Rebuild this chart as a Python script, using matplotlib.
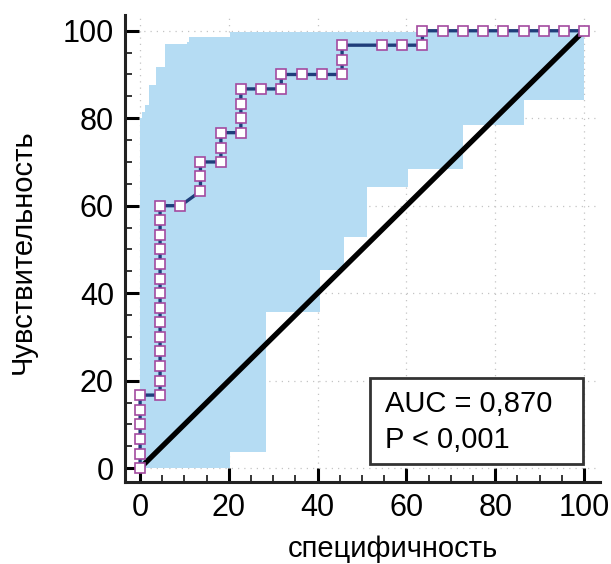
import matplotlib.pyplot as plt
from matplotlib.patches import Rectangle

plt.rcParams['font.family'] = ['Liberation Sans', 'DejaVu Sans']

# ROC curve points, % (x = 100 - specificity, y = sensitivity)
roc_x = [0, 0, 0, 0, 0, 0,
         4.5, 4.5, 4.5, 4.5, 4.5, 4.5, 4.5, 4.5, 4.5, 4.5, 4.5, 4.5, 4.5, 4.5,
         9.1, 13.6, 13.6, 13.6, 18.2, 18.2, 18.2,
         22.7, 22.7, 22.7, 22.7, 27.3, 31.8, 31.8, 36.4, 40.9,
         45.5, 45.5, 45.5, 54.5, 59.1, 63.6, 63.6,
         68.2, 72.7, 77.3, 81.8, 86.4, 90.9, 95.5, 100]
roc_y = [0, 3.3, 6.7, 10, 13.3, 16.7,
         16.7, 20, 23.3, 26.7, 30, 33.3, 36.7, 40, 43.3, 46.7, 50, 53.3, 56.7, 60,
         60, 63.3, 66.7, 70, 70, 73.3, 76.7,
         76.7, 80, 83.3, 86.7, 86.7, 86.7, 90, 90, 90,
         90, 93.3, 96.7, 96.7, 96.7, 96.7, 100,
         100, 100, 100, 100, 100, 100, 100, 100]

# 95% confidence band (step boundaries)
upper_x = [0, 0.5, 1.1, 1.9, 3.5, 5.6, 10.5, 11.1, 20.3, 100]
upper_y = [80, 81.5, 83, 87.6, 91.8, 97, 97.5, 98.5, 99.8, 100]
lower_x = [0, 20.3, 28.4, 40.5, 46.0, 51.2, 60.4, 72.7, 86.5, 100]
lower_y = [0, 3.7, 35.7, 45.4, 52.8, 64.3, 68.5, 78.4, 84.2, 84.2]

auc_text = 'AUC = 0,870'
p_text = 'P < 0,001'
ticks = [0, 20, 40, 60, 80, 100]


def staircase(xs, ys):
    sx, sy = [], []
    for i in range(len(xs)):
        if i > 0:
            sx.append(xs[i])
            sy.append(ys[i - 1])
        sx.append(xs[i])
        sy.append(ys[i])
    return sx, sy


fig = plt.figure(figsize=(6.11, 5.64), dpi=100)
ax = fig.add_axes([125 / 611, 1 - 481.7 / 564, 475 / 611, 466.7 / 564])

ux, uy = staircase(upper_x, upper_y)
lx, ly = staircase(lower_x, lower_y)
ax.fill(ux + lx[::-1], uy + ly[::-1], color='#b5dcf3', lw=0, zorder=1)

ax.plot([0, 100], [0, 100], color='black', lw=3.8, solid_capstyle='round', zorder=3)
ax.plot(roc_x, roc_y, color='#1f3d7a', lw=2.4, marker='s', ms=7.2,
        mfc='white', mec='#a34a9f', mew=1.2, zorder=4)

ax.add_patch(Rectangle((51.8, 0.85), 48.0, 19.75, fill=True, facecolor='white',
                       edgecolor='#333333', lw=2.0, zorder=5))
ax.text(55.2, 12.9, auc_text, fontsize=21, va='baseline', zorder=6)
ax.text(55.2, 4.5, p_text, fontsize=21, va='baseline', zorder=6)

ax.set_xlim(-3.4, 103.6)
ax.set_ylim(-3.1, 103.6)
ax.set_xticks(ticks)
ax.set_yticks(ticks)
ax.set_xticks(range(0, 101, 5), minor=True)
ax.set_yticks(range(0, 101, 5), minor=True)
ax.tick_params(which='major', direction='in', length=10, width=2.2, labelsize=22, pad=8)
ax.tick_params(which='minor', direction='in', length=5, width=1.1)
ax.grid(True, which='major', color='#c4c4c4', lw=0.9, ls=(0, (1, 4)), zorder=0)
ax.set_axisbelow(True)

for s in ['top', 'right']:
    ax.spines[s].set_visible(False)
for s in ['left', 'bottom']:
    ax.spines[s].set_linewidth(2.2)
    ax.spines[s].set_color('#222222')

ax.set_xlabel('специфичность', fontsize=21)
ax.set_ylabel('Чувствительность', fontsize=21)
ax.xaxis.set_label_coords(0.564, -0.115)
ax.yaxis.set_label_coords(-0.185, 0.492)

fig.savefig('out.png', dpi=100)
